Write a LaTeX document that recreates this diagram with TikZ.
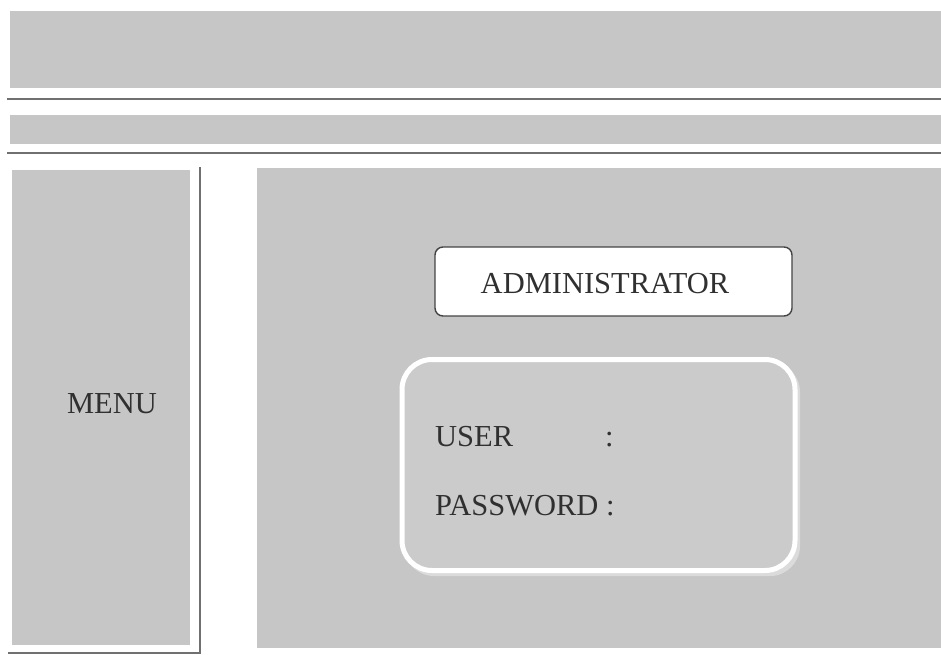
\documentclass[tikz,border=0pt]{standalone}
\usepackage{fontspec}
\setmainfont{Liberation Serif}
\begin{document}
\begin{tikzpicture}[x=1pt,y=-1pt,
  panel/.style={fill=panelgray,draw=none},
  rule/.style={draw=rulegray,line width=2.2pt},
  label/.style={text=textgray,inner sep=0pt,font=\fontsize{30.5}{34}\selectfont},
]
\definecolor{panelgray}{HTML}{C6C6C6}
\definecolor{innergray}{HTML}{CBCBCB}
\definecolor{rulegray}{HTML}{707070}
\definecolor{textgray}{HTML}{303030}
\definecolor{framegray}{HTML}{444444}
\useasboundingbox (0,0) rectangle (941,654);
\fill[white] (0,0) rectangle (941,654);

% header bands and separating rules
\fill[panel] (10,11) rectangle (941,88);
\draw[rule] (7,99) -- (941,99);
\fill[panel] (10,115) rectangle (941,144);
\draw[rule] (7,153) -- (941,153);

% menu column with its edge lines
\fill[panel] (12,170) rectangle (190,645);
\draw[draw=rulegray,line width=1.6pt] (200,167) -- (200,653) -- (8,653);

% main content area
\fill[panel] (257,168) rectangle (941,648);

% title box
\node[draw=framegray,line width=1.4pt,fill=white,rounded corners=8pt,
      minimum width=357pt,minimum height=69pt,inner sep=0pt]
      (titlebox) at (613.5,281.5) {};
\node[label,anchor=base] (title) at (605,293) {ADMINISTRATOR};

% login box with soft shadow and white frame
\fill[black!14,rounded corners=30pt] (404,362) rectangle (800,576);
\node[draw=white,line width=5pt,fill=innergray,rounded corners=30pt,
      minimum width=393pt,minimum height=211pt,inner sep=0pt]
      (loginbox) at (598.5,465) {};

% labels
\node[label,anchor=base] (menu) at (112,413) {MENU};
\node[label,anchor=base west] (user) at (435,446) {USER};
\node[label,anchor=base west] (usercolon) at (605,446) {:};
\node[label,anchor=base west] (pass) at (435,515) {PASSWORD :};
\end{tikzpicture}
\end{document}
